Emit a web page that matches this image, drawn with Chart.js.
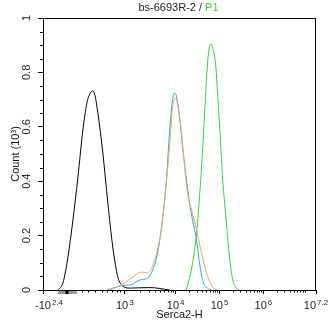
<!DOCTYPE html>
<html><head><meta charset="utf-8">
<script src="https://cdn.jsdelivr.net/npm/chart.js@4.4.1/dist/chart.umd.min.js"></script>
<style>html,body{margin:0;padding:0;background:#fff;}</style>
</head><body>
<canvas id="c" width="330" height="333"></canvas>
<script>
// x values are display positions in decades on the biexponential axis
const blackX = [1.318,1.432,1.545,1.659,1.773,1.886,1.977,2.045,2.114,2.159,2.227,2.341,2.455,2.568,2.682,2.795,2.955,3.409,3.864];
const blackY = [0,0.026,0.121,0.257,0.415,0.588,0.688,0.721,0.732,0.717,0.651,0.504,0.320,0.158,0.048,0.015,0.007,0.009,0];
const blueX = [2.432,2.886,2.955,3.182,3.364,3.477,3.568,3.682,3.795,3.864,3.932,3.977,4.023,4.091,4.159,4.25,4.318,4.386,4.477,4.545,4.614,4.727,4.818];
const blueY = [0,0.018,0.018,0.037,0.044,0.074,0.121,0.232,0.415,0.588,0.699,0.724,0.710,0.636,0.526,0.404,0.320,0.257,0.184,0.099,0.037,0.007,0];
const orangeX = [2.5,2.841,3.023,3.227,3.341,3.455,3.568,3.682,3.795,3.886,3.932,4.0,4.045,4.136,4.205,4.273,4.364,4.477,4.591,4.705,4.841,4.955];
const orangeY = [0,0.026,0.048,0.066,0.063,0.081,0.136,0.232,0.404,0.577,0.673,0.706,0.680,0.577,0.452,0.357,0.294,0.221,0.136,0.063,0.011,0];
const greenX = [4.243,4.357,4.470,4.545,4.620,4.682,4.734,4.795,4.848,4.909,4.961,5.016,5.075,5.152,5.227,5.302,5.386,5.455];
const greenY = [0,0.074,0.196,0.343,0.527,0.711,0.846,0.904,0.889,0.834,0.711,0.564,0.404,0.257,0.122,0.037,0.007,0];

const xMajorTicks = [0.977, 2.841, 4, 5, 6, 7.2];
const xLabelBase = ['-10','10','10','10','10','10'];
const xLabelExp = ['2.4','3','4','5','6','7.2'];
const xLinearMinor = [1.864, 2.0, 2.159, 2.318, 2.432, 2.545, 2.659, 2.727];
const zeroBand = [1.318, 1.75];
const zeroMark = 1.523;
const yMajorTicks = [0, 0.2, 0.4, 0.6, 0.8, 1];
const yLabels = ['0', '0.2', '0.4', '0.6', '0.8', '1'];
const titleMain = 'bs-6693R-2 / ';
const titleGate = 'P1';
const xTitle = 'Serca2-H';
const yTitle = 'Count (10³)';

function pts(xs, ys){ return xs.map((x,i)=>({x:x, y:ys[i]})); }
function minorX(){
  const out = xLinearMinor.slice();
  for (let k=2;k<=9;k++) out.push(2.841 + Math.log10(k)*1.159);
  for (let d=4; d<7.2; d++) for (let k=2;k<=9;k++){ const v=d+Math.log10(k); if (v<7.2) out.push(v); }
  return out;
}

const FONT = '"Liberation Sans", Arial, sans-serif';
const extras = {
  id: 'extras',
  afterDraw(chart){
    const {ctx, chartArea:a, scales:{x, y}} = chart;
    ctx.save();
    ctx.strokeStyle = '#000'; ctx.lineWidth = 1;
    ctx.strokeRect(Math.round(a.left)+0.5, Math.round(a.top)+0.5, Math.round(a.right-a.left)-1, Math.round(a.bottom-a.top));
    // minor ticks
    ctx.beginPath();
    minorX().forEach(v=>{ const px = Math.round(x.getPixelForValue(v))+0.5; ctx.moveTo(px, a.bottom); ctx.lineTo(px, a.bottom+2.5); });
    for (let v=0.05; v<1; v+=0.05){ if (Math.abs(v*5-Math.round(v*5))<1e-6) continue; const py=Math.round(y.getPixelForValue(v))+0.5; ctx.moveTo(a.left, py); ctx.lineTo(a.left-3, py); }
    ctx.stroke();
    // zero band
    const b0 = x.getPixelForValue(zeroBand[0]), b1 = x.getPixelForValue(zeroBand[1]);
    ctx.fillStyle = '#999'; ctx.fillRect(b0, a.bottom+1, b1-b0, 3);
    const zm = x.getPixelForValue(zeroMark);
    ctx.fillStyle = '#000'; ctx.fillRect(zm-1.5, a.bottom+1, 3, 3);
    // x tick labels with superscript exponents
    ctx.textAlign = 'left'; ctx.textBaseline = 'alphabetic'; ctx.fillStyle = '#222';
    xMajorTicks.forEach((v, i) => {
      ctx.font = '11px ' + FONT; const wb = ctx.measureText(xLabelBase[i]).width;
      ctx.font = '8px ' + FONT; const we = ctx.measureText(xLabelExp[i]).width;
      const px = x.getPixelForValue(v);
      let sx = px - (wb + we + 1)/2;
      if (sx < a.left - 8) sx = a.left - 8;
      ctx.font = '11px ' + FONT; ctx.fillText(xLabelBase[i], sx, 309);
      ctx.font = '8px ' + FONT; ctx.fillText(xLabelExp[i], sx + wb + 1, 305);
    });
    // y tick labels, rotated
    ctx.font = '11px ' + FONT; ctx.textAlign = 'center'; ctx.textBaseline = 'alphabetic';
    yMajorTicks.forEach((v, i) => {
      ctx.save();
      ctx.translate(30, y.getPixelForValue(v));
      ctx.rotate(-Math.PI/2);
      ctx.fillText(yLabels[i], 0, 0);
      ctx.restore();
    });
    // title
    ctx.font = '11px ' + FONT; ctx.textBaseline = 'middle'; ctx.textAlign = 'left';
    const w1 = ctx.measureText(titleMain).width, w2 = ctx.measureText(titleGate).width;
    const cx = (a.left + a.right)/2 - 1;
    const sx = cx - (w1+w2)/2;
    ctx.fillStyle = '#222'; ctx.fillText(titleMain, sx, 8);
    ctx.fillStyle = '#3ccc3c'; ctx.fillText(titleGate, sx + w1, 8);
    ctx.restore();
  }
};

const ds = (label, xs, ys, color) => ({label, data: pts(xs, ys), borderColor: color, borderWidth: 1, pointRadius: 0, fill: false, tension: 0.4, cubicInterpolationMode: 'monotone'});

new Chart(document.getElementById('c'), {
  type: 'line',
  data: { datasets: [
    ds('Orange', orangeX, orangeY, '#f2a463'),
    ds('Blue', blueX, blueY, '#27a9e1'),
    ds('Control', blackX, blackY, '#000000'),
    ds('P1', greenX, greenY, '#3ccc3c')
  ]},
  options: {
    responsive: false, animation: false, devicePixelRatio: 1,
    layout: { padding: { top: 18, right: 14, left: 0, bottom: 0 } },
    plugins: { legend: { display: false }, tooltip: { enabled: false } },
    scales: {
      x: {
        type: 'linear', min: 0.977, max: 7.2,
        afterBuildTicks: s => { s.ticks = xMajorTicks.map(v => ({value: v})); },
        afterFit: s => { s.height = 43; },
        ticks: { display: false, autoSkip: false, maxRotation: 0, minRotation: 0 },
        grid: { display: true, drawOnChartArea: false, drawTicks: true, tickLength: 4, tickColor: '#000' },
        border: { display: true, color: '#000', width: 1 },
        title: { display: true, text: xTitle, color: '#111', font: { family: FONT, size: 11 }, padding: { top: 0, bottom: 11 } }
      },
      y: {
        type: 'linear', min: 0, max: 1,
        afterBuildTicks: s => { s.ticks = yMajorTicks.map(v => ({value: v})); },
        afterFit: s => { s.width = 43; },
        ticks: { display: false, autoSkip: false },
        grid: { display: true, drawOnChartArea: false, drawTicks: true, tickLength: 5, tickColor: '#000' },
        border: { display: true, color: '#000', width: 1 },
        title: { display: true, text: yTitle, color: '#111', font: { family: FONT, size: 11 }, padding: { top: 9, bottom: 0 } }
      }
    }
  },
  plugins: [extras]
});
</script>
</body></html>
